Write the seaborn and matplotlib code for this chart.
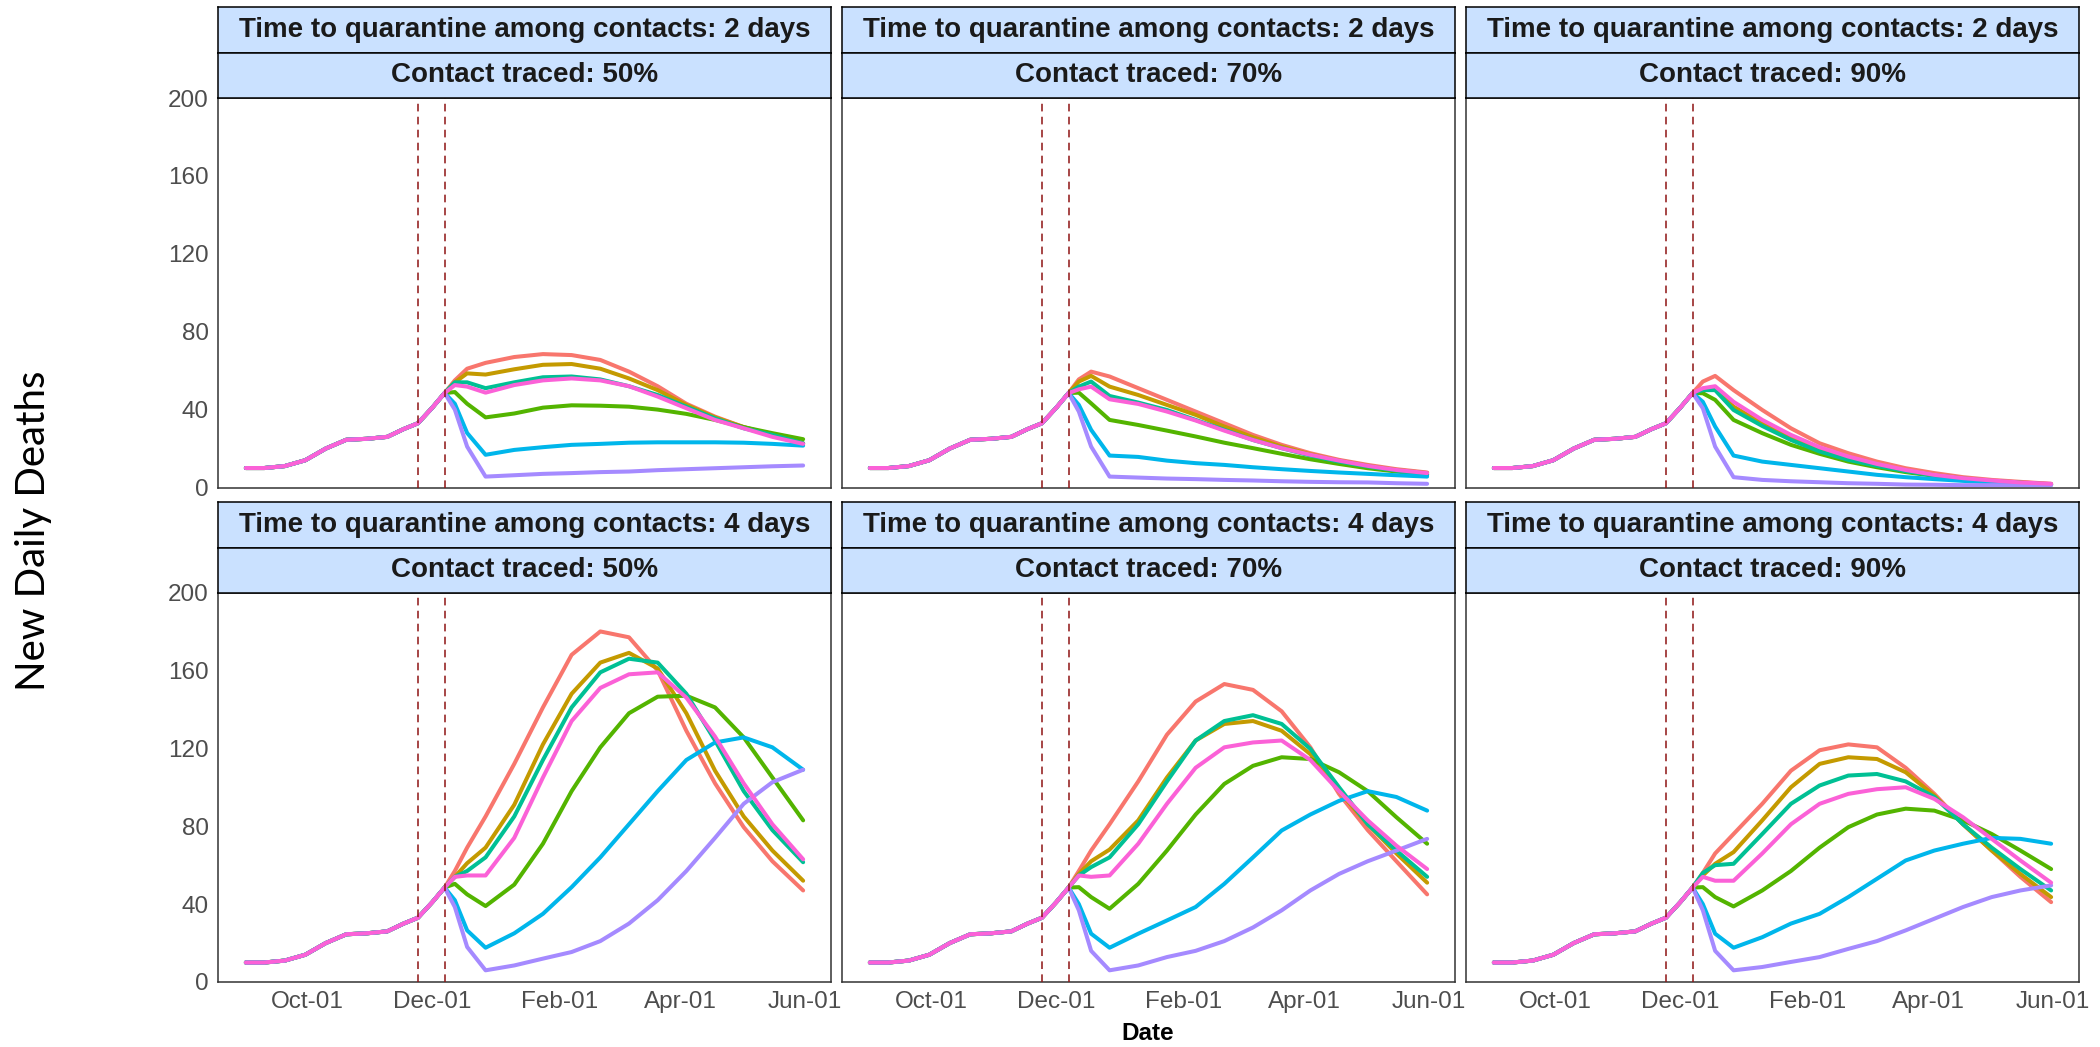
import datetime as dt
import pandas as pd
import seaborn as sns
import matplotlib.pyplot as plt
import matplotlib.dates as mdates

# shared trajectory before the scenarios split
pre_dates = ["2020-09-01", "2020-09-10", "2020-09-20", "2020-09-30", "2020-10-10",
             "2020-10-20", "2020-10-30", "2020-11-09", "2020-11-17", "2020-11-24",
             "2020-12-01", "2020-12-07"]
pre_deaths = [10, 10, 11, 14, 20, 24.5, 25, 26, 30, 33, 41, 48.5]

# dates read after the split
post_dates = ["2020-12-12", "2020-12-18", "2020-12-27", "2021-01-10", "2021-01-24",
              "2021-02-07", "2021-02-21", "2021-03-07", "2021-03-21", "2021-04-04",
              "2021-04-18", "2021-05-02", "2021-05-16", "2021-05-31"]

intervention_dates = ["2020-11-24", "2020-12-07"]

scenarios = ["A", "B", "C", "D", "E", "F", "G"]
palette = ["#F8766D", "#C49A00", "#53B400", "#00C094", "#00B6EB", "#A58AFF", "#FB61D7"]

quarantine_days = [2, 4]
traced_pct = [50, 70, 90]

q2_ct50 = {
    "A": [55, 61, 64, 67, 68.5, 68, 65.5, 59.5, 52, 43, 36.4, 31, 27, 22.4],
    "B": [54, 58.6, 58, 60.7, 63, 63.4, 61, 56, 50, 42.4, 36, 31, 27, 22.7],
    "C": [49, 43, 36, 38, 41, 42.2, 42, 41.5, 40, 37.8, 34.7, 31, 27.9, 24.8],
    "D": [54, 54, 51, 54, 56.6, 57, 55.5, 52, 47.5, 41.5, 35.5, 30.4, 27, 22.7],
    "E": [43, 28, 16.8, 19.3, 20.7, 21.9, 22.4, 23, 23.2, 23.2, 23.2, 23, 22.4, 21.5],
    "F": [40, 21, 5.6, 6.3, 7, 7.4, 7.9, 8.2, 8.9, 9.4, 9.9, 10.4, 10.9, 11.3],
    "G": [52.6, 51.8, 48.7, 52.6, 55, 56, 55, 52, 46.7, 40.7, 34.7, 30.4, 26, 22.4],
}
q2_ct70 = {
    "A": [55.5, 59.5, 57, 51, 45, 39, 33, 27, 21.9, 17.6, 14.2, 11.6, 9.4, 7.7],
    "B": [54.4, 57.3, 51.8, 47.5, 42.4, 37.3, 31.3, 25.8, 21, 17, 13.8, 11.1, 9, 7.4],
    "C": [48.7, 43.2, 34.7, 32.1, 29.2, 26.2, 23, 20.2, 17.3, 14.5, 12.1, 9.9, 8.2, 6.5],
    "D": [51.8, 54.4, 47, 43.6, 39.8, 34.7, 29.6, 24.4, 20.2, 16.4, 13.3, 10.8, 8.7, 6.5],
    "E": [42.4, 29.6, 16.4, 15.7, 13.8, 12.5, 11.6, 10.4, 9.4, 8.5, 7.7, 7, 6.3, 5.6],
    "F": [39, 21, 5.6, 5.1, 4.6, 4.3, 3.9, 3.6, 3.2, 2.9, 2.7, 2.6, 2.2, 1.9],
    "G": [50.4, 51.8, 45.3, 42.9, 39, 34.4, 29.2, 24.4, 20.2, 16.8, 13.8, 11.1, 9, 7.4],
}
q2_ct90 = {
    "A": [54.4, 57.3, 50, 39.8, 30.4, 22.7, 17.6, 13.3, 9.9, 7.4, 5.3, 3.9, 2.9, 1.9],
    "B": [50, 51, 41.5, 33, 25.3, 19.3, 15, 11.6, 8.7, 6.5, 4.8, 3.4, 2.6, 1.7],
    "C": [48.4, 45, 34.7, 27.9, 21.9, 17.3, 13.3, 10.4, 7.9, 6, 4.4, 3.2, 2.4, 1.5],
    "D": [50, 50, 39.8, 31.6, 24.4, 18.5, 14.2, 11.1, 8.4, 6.2, 4.6, 3.2, 2.4, 1.5],
    "E": [44, 31.3, 16.4, 13.3, 11.6, 9.9, 8.2, 6.5, 5.3, 4.3, 3.4, 2.6, 2.1, 1.5],
    "F": [40.7, 21, 5.3, 3.9, 3.2, 2.7, 2.2, 1.9, 1.5, 1.4, 1.2, 1.2, 1.2, 1.2],
    "G": [51, 52, 44, 34.7, 27, 20.7, 15.9, 12.1, 9, 6.5, 4.8, 3.6, 2.6, 1.9],
}
q4_ct50 = {
    "A": [57, 69, 85, 112, 141, 168, 180, 177, 160, 129, 102, 79.5, 62, 47],
    "B": [54, 61, 69, 91, 122, 148, 164, 169, 161, 138, 108.5, 85, 67.5, 52],
    "C": [50.4, 45, 39, 50, 71, 98, 120.5, 138, 146.5, 147, 141, 125.6, 105, 83],
    "D": [54, 57, 64, 85, 114, 141, 159, 166, 164, 148, 124, 98, 78, 61.5],
    "E": [42, 26.5, 17.6, 25, 35, 48.7, 64, 81, 98, 114, 123, 125.6, 120.5, 109],
    "F": [38.5, 18, 6, 8.5, 12, 15.4, 21, 30, 42, 57, 74, 91.5, 102.6, 109],
    "G": [54, 54.7, 54.7, 74, 105, 134, 151, 158, 159, 146, 126, 102, 81, 63],
}
q4_ct70 = {
    "A": [57, 67.5, 81, 103, 127, 144, 153, 150, 139, 120.5, 96.6, 78, 62, 45],
    "B": [55.5, 62, 68, 83, 105, 124, 132.5, 134, 129, 117, 98, 81, 66, 51],
    "C": [48.7, 43.6, 37.6, 50.4, 67.5, 86, 101.7, 111, 115.4, 114.5, 107.7, 98, 84.6, 71],
    "D": [54.7, 59, 64, 81, 103, 124, 134, 137, 132.5, 119.7, 100, 81, 67.5, 54],
    "E": [40, 24.8, 17.6, 24.8, 31.6, 38.5, 50.4, 64, 77.8, 86, 93, 98, 95, 88],
    "F": [36.8, 16, 6, 8.5, 12.8, 16, 21, 28, 36.8, 47, 55.5, 62, 67.5, 73.5],
    "G": [54.7, 54, 54.7, 71, 91.5, 110, 120.5, 123, 124, 114, 98, 83, 70, 58],
}
q4_ct90 = {
    "A": [56, 66, 76, 91.5, 108.5, 119, 122, 120.5, 110, 96.6, 81, 67.5, 54, 41],
    "B": [54.7, 60.7, 66.7, 83, 100, 112, 115.4, 114.5, 107.7, 95.7, 81, 67.5, 55.5, 43.6],
    "C": [48.7, 43.6, 38.8, 47, 57, 69, 79.5, 86, 89, 88, 83, 76, 67.5, 58],
    "D": [56, 60, 60.7, 76, 91.5, 100.9, 106, 106.8, 103, 95, 81, 69, 58, 47],
    "E": [40, 24.8, 17.6, 23, 30, 35, 43.6, 53, 62.4, 67.5, 71, 74, 73.5, 71],
    "F": [36.8, 16, 6, 7.7, 10.3, 12.8, 17, 21, 26.5, 32.5, 38.5, 43.6, 47, 49.6],
    "G": [54, 52, 52, 66, 81, 91.5, 96.6, 99, 100, 94, 84.6, 73.5, 62.4, 51],
}

panels = {
    (2, 50): q2_ct50, (2, 70): q2_ct70, (2, 90): q2_ct90,
    (4, 50): q4_ct50, (4, 70): q4_ct70, (4, 90): q4_ct90,
}

# long table for seaborn
rows = []
for (q, ct), series in panels.items():
    for s in scenarios:
        for d, v in zip(pre_dates + post_dates, pre_deaths + series[s]):
            rows.append({"quarantine": q, "traced": ct, "scenario": s,
                         "date": d, "deaths": v})
df = pd.DataFrame(rows)
df["date"] = pd.to_datetime(df["date"])

sns.set_style("white")
plt.rcParams["font.family"] = ["Liberation Sans", "DejaVu Sans"]

W, H = 2100, 1047
fig = plt.figure(figsize=(W / 100, H / 100), dpi=100)


def rect(x0, y0, w, h):
    return [x0 / W, 1 - (y0 + h) / H, w / W, h / H]


col_left = [218, 842, 1466]
panel_w = 613
plot_top = [98, 592.5]
panel_h = 389.5
strip_top = [7, 502]
strip_h = 45.5
strip_fill = "#CAE1FF"

x_start = pd.Timestamp("2020-09-01")
x_end = pd.Timestamp("2021-05-31")
pad = (x_end - x_start) * 0.05
xticks = pd.to_datetime(["2020-10-01", "2020-12-01", "2021-02-01",
                         "2021-04-01", "2021-06-01"])

for r, q in enumerate(quarantine_days):
    for c, ct in enumerate(traced_pct):
        x0 = col_left[c]
        ax = fig.add_axes(rect(x0, plot_top[r], panel_w, panel_h))
        sub = df[(df.quarantine == q) & (df.traced == ct)]
        sns.lineplot(data=sub, x="date", y="deaths", hue="scenario",
                     hue_order=scenarios, palette=palette, linewidth=2.9,
                     legend=False, errorbar=None, ax=ax)
        for d in intervention_dates:
            ax.axvline(pd.Timestamp(d), color="#8E1414", lw=1.1,
                       ls=(0, (5, 3.5)), zorder=5)

        ax.set_xlim(x_start - pad, x_end + pad)
        ax.set_ylim(0, 200)
        ax.set_yticks([0, 40, 80, 120, 160, 200])
        ax.set_xticks(xticks)
        ax.xaxis.set_major_formatter(mdates.DateFormatter("%b-%d"))
        ax.set_xlabel("")
        ax.set_ylabel("")
        for sp in ax.spines.values():
            sp.set_color("#333333")
            sp.set_linewidth(1.1)
        ax.tick_params(axis="both", length=4, width=1, color="#333333",
                       labelsize=17.5, labelcolor="#4D4D4D", pad=2.5)
        if c > 0:
            ax.tick_params(axis="y", left=False, labelleft=False)
        if r == 0:
            ax.tick_params(axis="x", bottom=False, labelbottom=False)

        # two stacked strips
        labels = [f"Time to quarantine among contacts: {q} days",
                  f"Contact traced: {ct}%"]
        for k, lab in enumerate(labels):
            sax = fig.add_axes(rect(x0, strip_top[r] + k * strip_h, panel_w, strip_h))
            sax.set_facecolor(strip_fill)
            sax.set_xticks([])
            sax.set_yticks([])
            for sp in sax.spines.values():
                sp.set_color("black")
                sp.set_linewidth(1.1)
            sax.text(0.5, 0.5, lab, ha="center", va="center", fontsize=20,
                     fontweight="bold", color="#1A1A1A", transform=sax.transAxes)

fig.text(1148 / W, 1 - 1034 / H, "Date", ha="center", va="center",
         fontsize=17.5, fontweight="bold", color="black")
fig.text(33.5 / W, 1 - 531 / H, "New Daily Deaths", ha="center", va="center",
         rotation=90, fontsize=29, family=["Lato", "DejaVu Sans"], color="black")

fig.savefig("out.png", dpi=100)
